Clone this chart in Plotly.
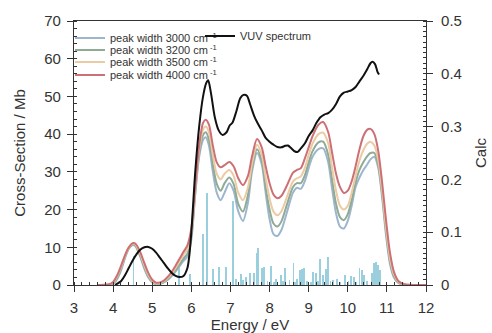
import plotly.graph_objects as go

# ---------------- data ----------------
vuv_e = [4.05, 4.1, 4.2, 4.3, 4.4, 4.5, 4.6, 4.7, 4.8, 4.9, 5.0, 5.1, 5.2, 5.3, 5.4, 5.5, 5.6, 5.7,
         5.8, 5.9, 5.95, 6.0, 6.05, 6.1, 6.2, 6.3, 6.38, 6.43, 6.5, 6.6, 6.7, 6.8, 6.9, 6.98, 7.05,
         7.15, 7.25, 7.33, 7.42, 7.5, 7.6, 7.7, 7.8, 7.9, 8.0, 8.1, 8.2, 8.3, 8.4, 8.47, 8.55, 8.65,
         8.72, 8.8, 8.9, 9.0, 9.1, 9.2, 9.3, 9.4, 9.5, 9.6, 9.7, 9.8, 9.9, 10.0, 10.1, 10.2, 10.3,
         10.4, 10.5, 10.58, 10.63, 10.7, 10.76, 10.8]
vuv_mb = [0.0, 0.3, 1.0, 2.5, 4.5, 6.5, 8.2, 9.4, 10.0, 10.1, 9.6, 8.6, 7.2, 5.8, 4.4, 3.2, 2.4, 2.1,
          2.4, 4.5, 8.0, 14.0, 22.0, 30.0, 42.0, 50.0, 53.5, 54.3, 51.0, 44.5, 41.0, 39.8, 40.5, 42.3, 43.0,
          46.0, 49.5, 50.4, 50.2, 48.0, 45.0, 42.8, 41.0, 39.0, 38.0, 37.2, 36.6, 36.5, 36.9, 37.0, 36.3, 35.4,
          35.3, 36.2, 37.5, 39.5, 41.0, 43.0, 44.5, 45.2, 45.6, 46.5, 48.0, 50.0, 51.0, 51.3, 51.7, 52.5, 54.0,
          55.5, 57.3, 58.8, 59.2, 58.5, 56.5, 55.8]

calc_e = [3.6, 3.9, 4.0, 4.1, 4.2, 4.3, 4.4, 4.5, 4.55, 4.6, 4.7, 4.8, 4.9, 5.0, 5.1, 5.2, 5.3, 5.4,
          5.5, 5.6, 5.7, 5.8, 5.9, 6.0, 6.1, 6.2, 6.3, 6.37, 6.45, 6.55, 6.65, 6.75, 6.85, 6.97, 7.08,
          7.2, 7.32, 7.45, 7.55, 7.68, 7.8, 7.9, 8.0, 8.1, 8.2, 8.3, 8.45, 8.6, 8.7, 8.8, 8.9, 9.0,
          9.1, 9.25, 9.37, 9.5, 9.6, 9.7, 9.8, 9.9, 10.0, 10.1, 10.2, 10.3, 10.4, 10.5, 10.58, 10.68,
          10.78, 10.88, 10.98, 11.08, 11.18, 11.3, 11.45, 12.0]
width_3000 = [0, 0, 0.3, 1.5, 3.8, 7.0, 9.6, 10.6, 10.5, 9.8, 7.3, 4.3, 2.0, 0.7, 0.2, 0.3, 0.7, 1.4,
              2.4, 3.6, 5.0, 6.4, 7.5, 12.0, 24.0, 34.0, 38.5, 39.2, 37.0, 30.0, 24.5, 22.5, 24.5, 27.0, 25.0,
              19.5, 17.0, 22.0, 30.0, 35.0, 32.0, 24.5, 17.5, 13.5, 13.0, 14.5, 19.5, 24.5, 25.8, 25.5, 27.5, 31.0,
              34.0, 36.0, 36.2, 32.5, 25.5, 19.0, 15.5, 15.0, 17.0, 21.0, 26.0, 28.5, 30.5, 32.0, 33.3, 34.0,
              31.0, 23.0, 13.0, 5.5, 2.0, 0.5, 0.0, 0.0]
width_3200 = [0, 0, 0.4, 1.8, 4.2, 7.3, 9.7, 10.7, 10.7, 10.0, 7.6, 4.7, 2.3, 0.9, 0.3, 0.4, 0.8, 1.6,
              2.7, 4.0, 5.5, 7.0, 8.3, 13.0, 24.5, 35.0, 39.8, 40.5, 38.6, 32.0, 26.8, 25.0, 27.0, 28.5, 26.8,
              21.5, 19.5, 24.0, 31.0, 36.0, 33.0, 26.0, 20.0, 16.3, 15.5, 16.8, 21.5, 26.0, 27.0, 27.0, 29.0, 32.5,
              35.5, 37.8, 38.0, 34.5, 27.8, 21.5, 18.0, 17.2, 18.8, 22.5, 27.2, 30.5, 32.6, 34.2, 35.0, 35.0,
              31.8, 24.0, 14.0, 6.2, 2.4, 0.6, 0.05, 0.0]
width_3500 = [0, 0.2, 0.6, 2.2, 4.6, 7.6, 9.9, 10.9, 10.9, 10.3, 8.1, 5.2, 2.7, 1.1, 0.4, 0.5, 1.0, 1.9,
              3.1, 4.6, 6.3, 8.0, 9.5, 14.0, 25.5, 36.0, 41.3, 42.0, 40.5, 34.5, 29.5, 28.0, 29.5, 30.5, 29.0,
              24.5, 22.5, 26.0, 32.0, 37.2, 34.5, 28.5, 23.0, 19.5, 18.5, 19.5, 23.5, 27.5, 28.3, 28.8, 31.0, 34.5,
              37.5, 40.0, 40.4, 37.5, 31.0, 25.0, 21.0, 20.0, 21.0, 24.5, 29.0, 33.0, 35.8, 37.5, 38.0, 37.0,
              33.0, 25.0, 15.0, 7.0, 2.8, 0.8, 0.1, 0.0]
width_4000 = [0, 0.2, 0.8, 2.5, 5.0, 7.8, 10.0, 11.1, 11.1, 10.6, 8.6, 5.8, 3.2, 1.4, 0.6, 0.7, 1.2, 2.2,
              3.5, 5.2, 7.0, 8.8, 10.5, 15.0, 26.0, 37.0, 43.0, 43.8, 42.5, 37.0, 32.5, 31.2, 31.8, 32.6, 31.5,
              28.3, 26.5, 29.0, 34.0, 38.7, 36.5, 31.5, 27.0, 24.0, 23.0, 23.6, 26.5, 29.8, 30.5, 31.0, 33.5, 36.5,
              39.5, 42.5, 43.2, 40.5, 35.0, 29.5, 26.0, 24.4, 25.0, 27.5, 31.5, 36.0, 39.5, 41.2, 41.4, 40.0,
              35.5, 27.0, 17.0, 8.5, 3.5, 1.0, 0.2, 0.0]

stick_e = [4.52, 5.69, 5.97, 6.29, 6.40, 6.55, 6.71, 6.89, 7.07, 7.15, 7.27, 7.33, 7.40, 7.50, 7.60,
           7.67, 7.71, 7.80, 7.86, 7.95, 8.03, 8.12, 8.17, 8.29, 8.34, 8.40, 8.51, 8.61, 8.66, 8.71,
           8.78, 8.82, 8.88, 8.95, 9.05, 9.12, 9.19, 9.24, 9.29, 9.36, 9.44, 9.50, 9.56, 9.63, 9.72,
           9.80, 9.93, 10.02, 10.08, 10.16, 10.22, 10.30, 10.36, 10.42, 10.50, 10.61, 10.67, 10.72,
           10.78, 10.83]
stick_f = [0.055, 0.036, 0.02, 0.097, 0.174, 0.03, 0.035, 0.035, 0.159, 0.012, 0.02, 0.01, 0.016, 0.023,
           0.022, 0.06, 0.07, 0.032, 0.035, 0.008, 0.036, 0.006, 0.011, 0.019, 0.007, 0.032, 0.01, 0.041,
           0.006, 0.011, 0.028, 0.03, 0.032, 0.008, 0.006, 0.025, 0.023, 0.008, 0.049, 0.019, 0.03, 0.053,
           0.008, 0.01, 0.011, 0.006, 0.019, 0.007, 0.017, 0.015, 0.006, 0.032, 0.028, 0.019, 0.008, 0.022,
           0.041, 0.043, 0.038, 0.028]

series_names = ["peak width 3000 cm<sup> -1</sup>", "peak width 3200 cm<sup> -1</sup>",
                "peak width 3500 cm<sup> -1</sup>", "peak width 4000 cm<sup> -1</sup>"]
series_vals = [width_3000, width_3200, width_3500, width_4000]
series_colors = ["#9db6cd", "#8fab96", "#eccaa3", "#cc7075"]

x_ticks = [3, 4, 5, 6, 7, 8, 9, 10, 11, 12]
calc_ticks = [0, 0.1, 0.2, 0.3, 0.4, 0.5]
calc_labels = ["0", "0.1", "0.2", "0.3", "0.4", "0.5"]
mb_ticks = [0, 10, 20, 30, 40, 50, 60, 70]

# ---------------- figure ----------------
FONT = "Arial, Liberation Sans, sans-serif"
fig = go.Figure()

fig.add_trace(go.Bar(x=stick_e, y=stick_f, width=0.02, marker=dict(color="#9ccfdd", line_width=0),
                     yaxis="y", showlegend=False, name="Calc"))

legend_ids = ["legend", "legend2", "legend3", "legend4"]
for nm, vals, col, lg in zip(series_names, series_vals, series_colors, legend_ids):
    fig.add_trace(go.Scatter(x=calc_e, y=vals, mode="lines", name=nm, yaxis="y2",
                             line=dict(color=col, width=2, shape="spline", smoothing=0.8),
                             legend=lg))

fig.add_trace(go.Scatter(x=vuv_e, y=vuv_mb, mode="lines", name="VUV spectrum", yaxis="y2",
                         line=dict(color="#111111", width=2, shape="spline", smoothing=0.8),
                         legend="legend5"))

W, H = 492, 333
L, R, T, B = 74, 66, 21, 48
pw, ph = W - L - R, H - T - B

def px2paper(xp, yp):
    return (xp - L) / pw, (H - B - yp) / ph

legend_common = dict(font=dict(family=FONT, size=11, color="#333"), bgcolor="rgba(0,0,0,0)",
                     borderwidth=0, xanchor="left", yanchor="middle", itemwidth=30)
lay_leg = {}
for lg, yp in zip(legend_ids, [38, 50, 62, 75]):
    lx, ly = px2paper(70, yp)
    lay_leg[lg] = dict(x=lx, y=ly, **legend_common)
lx, ly = px2paper(200, 36)
lay_leg["legend5"] = dict(x=lx, y=ly, **legend_common)

axis_font = dict(family=FONT, size=15, color="#333")
fig.update_layout(
    width=W, height=H, margin=dict(l=L, r=R, t=T, b=B),
    paper_bgcolor="white", plot_bgcolor="white",
    font=dict(family=FONT, color="#333"),
    bargap=0,
    xaxis=dict(range=[3, 12], tickvals=x_ticks, ticks="outside", ticklen=6, tickcolor="#333",
               showline=True, linecolor="#333", linewidth=1.2, mirror=True, showgrid=False,
               zeroline=False, tickfont=axis_font, ticklabelstandoff=3,
               minor=dict(dtick=0.2, ticks="inside", ticklen=3, tickcolor="#333", showgrid=False),
               title=dict(text="Energy / eV", font=axis_font, standoff=6), automargin=False),
    yaxis=dict(range=[0, 0.5], side="right", tickvals=calc_ticks, ticktext=calc_labels,
               ticks="outside", ticklen=6, tickcolor="#333",
               showline=True, linecolor="#333", linewidth=1.2, showgrid=False, zeroline=False,
               tickfont=axis_font, ticklabelstandoff=5,
               minor=dict(dtick=0.01, ticks="inside", ticklen=3, tickcolor="#333", showgrid=False),
               title=dict(text="Calc", font=axis_font, standoff=14), automargin=False),
    yaxis2=dict(range=[0, 70], side="left", overlaying="y", tickvals=mb_ticks, ticks="outside", ticklen=6,
                tickcolor="#333", showline=True, linecolor="#333", linewidth=1.2, showgrid=False,
                zeroline=False, tickfont=axis_font, ticklabelstandoff=3,
                minor=dict(dtick=2, ticks="inside", ticklen=3, tickcolor="#333", showgrid=False),
                title=dict(text="Cross-Section / Mb", font=axis_font, standoff=14), automargin=False),
    **lay_leg,
)

fig.write_html("out.html")
